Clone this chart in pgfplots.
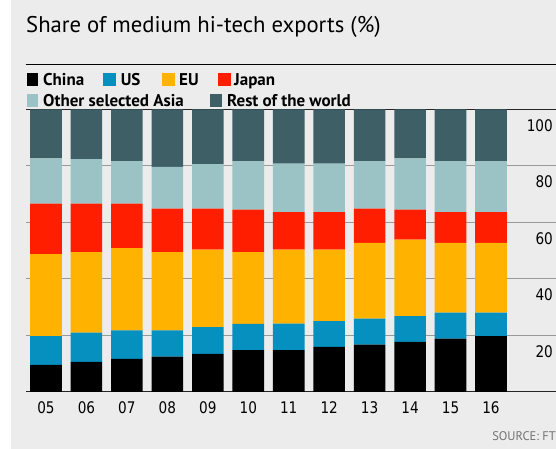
\documentclass[border=0pt]{standalone}
\usepackage{pgfplots}
\pgfplotsset{compat=1.18}
\usepackage{pgfplotstable}
\usepackage{fontspec}
\setmainfont{PT Sans}
\newfontfamily\tickfont[FakeStretch=0.85]{DejaVu Sans}
\definecolor{bgc}{HTML}{ECECEC}
\definecolor{cChina}{HTML}{000000}
\definecolor{cUS}{HTML}{0590BF}
\definecolor{cEU}{HTML}{FFB300}
\definecolor{cJapan}{HTML}{FF1E00}
\definecolor{cAsia}{HTML}{9BC2C5}
\definecolor{cRest}{HTML}{3E5F66}
\pgfplotstableread{
x China US EU Japan Asia Rest
0 9.6 10.2 29.0 17.9 16.0 17.3
1 10.7 10.3 28.5 17.2 15.7 17.6
2 11.7 10.1 29.1 15.8 15.0 18.3
3 12.5 9.3 27.7 15.4 14.8 20.3
4 13.5 9.5 27.4 14.5 15.8 19.3
5 14.8 9.3 25.4 15.1 17.1 18.3
6 14.8 9.4 26.2 13.3 17.1 19.2
7 16.0 9.1 25.3 13.3 17.1 19.2
8 16.8 9.2 26.8 12.1 16.8 18.3
9 17.7 9.2 27.0 10.7 18.1 17.3
10 18.9 9.2 24.7 10.9 18.0 18.3
11 19.8 8.3 24.7 10.9 18.0 18.3
}\datatable
\begin{document}
\begin{tikzpicture}
\useasboundingbox (0pt,0pt) rectangle (556pt,449pt);
\fill[white] (0pt,0pt) rectangle (556pt,449pt);
\fill[bgc] (11pt,0pt) rectangle (556pt,449pt);
% title
\node[anchor=base west, inner sep=0pt, font=\fontsize{22.7}{22.7}\selectfont] at (26pt,416pt) {Share of medium hi-tech exports (\%)};
\draw[black, line width=0.9pt] (25.5pt,385pt) -- (556pt,385pt);
% legend
\begin{scope}[every node/.style={anchor=base west, inner sep=0pt, font=\bfseries\fontsize{17}{17}\selectfont}]
\fill[cChina] (26.6pt,362.5pt) rectangle (38.3pt,375.5pt);
\node at (43pt,363pt) {China};
\fill[cUS] (103pt,362.5pt) rectangle (116pt,375.5pt);
\node at (120.6pt,363pt) {US};
\fill[cEU] (161.5pt,362.5pt) rectangle (174.5pt,375.5pt);
\node at (179pt,363pt) {EU};
\fill[cJapan] (217.5pt,362.5pt) rectangle (230.5pt,375.5pt);
\node at (234pt,363pt) {Japan};
\fill[cAsia] (26.6pt,341.6pt) rectangle (38.3pt,354.6pt);
\node at (43pt,342pt) {Other selected Asia};
\fill[cRest] (209.5pt,341.6pt) rectangle (222pt,354.6pt);
\node at (227pt,342pt) {Rest of the world};
\end{scope}
% source
\node[anchor=base east, inner sep=0pt, text=black!55, font=\fontsize{12.5}{12.5}\selectfont] at (556pt,8.5pt) {SOURCE: FT};
\begin{axis}[
  at={(26pt,57pt)}, anchor=south west,
  scale only axis, width=530pt, height=282.5pt,
  xmin=-0.494, xmax=12.607, ymin=0, ymax=100,
  ybar stacked, bar width=31.6pt,
  axis background/.style={fill=bgc},
  separate axis lines,
  x axis line style={draw=black!85, line width=1pt},
  y axis line style={draw=none},
  major tick length=0pt,
  xtick={0,...,11},
  xticklabels={05,06,07,08,09,10,11,12,13,14,15,16},
  xticklabel pos=lower,
  xticklabel style={anchor=center, yshift=-15.7pt, font=\tickfont\fontsize{16}{16}\selectfont},
  ytick={20,40,60,80,100},
  yticklabels={20,40,60,80,100},
  yticklabel pos=right,
  yticklabel style={anchor=east, inner sep=0pt, xshift=-3pt, yshift=-16pt, font=\tickfont\fontsize{16}{16}\selectfont},
  ymajorgrids, grid style={color=black!40, line width=1pt},
]
\addplot[fill=cChina, draw=none] table[x=x, y=China] {\datatable};
\addplot[fill=cUS, draw=none] table[x=x, y=US] {\datatable};
\addplot[fill=cEU, draw=none] table[x=x, y=EU] {\datatable};
\addplot[fill=cJapan, draw=none] table[x=x, y=Japan] {\datatable};
\addplot[fill=cAsia, draw=none] table[x=x, y=Asia] {\datatable};
\addplot[fill=cRest, draw=none] table[x=x, y=Rest] {\datatable};
\end{axis}
\end{tikzpicture}
\end{document}
